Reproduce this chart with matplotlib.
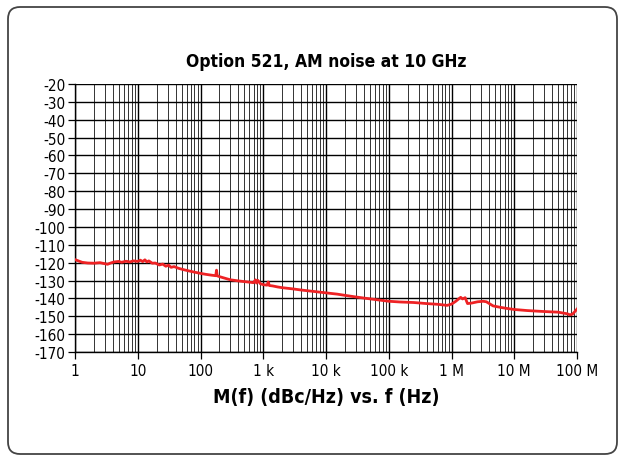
import matplotlib
matplotlib.use("Agg")
import matplotlib.pyplot as plt
from matplotlib.patches import FancyBboxPatch
import numpy as np

plt.rcParams['font.family'] = ['DejaVu Sans']
plt.rcParams['font.stretch'] = 'condensed'

title = "Option 521, AM noise at 10 GHz"
xlabel = "M(f) (dBc/Hz) vs. f (Hz)"

freq_hz = [1, 1.3, 1.6, 2, 2.5, 3, 3.3, 3.7, 4.2, 5, 5.5, 6.5, 7.5, 8.5, 10, 11, 12, 13, 14, 15, 17,
           19, 22, 25, 28, 31, 34, 38, 45, 55, 65, 80, 100, 120, 150, 175, 180, 185, 200,
           250, 300, 400, 500, 600, 700, 750, 780, 820, 900, 1000, 1150, 1200, 1250, 1400,
           1700, 2000, 3000, 4000, 6000, 10000, 15000, 21000, 30000, 40000, 60000, 100000,
           150000, 250000, 400000, 600000, 850000, 1000000, 1150000, 1300000, 1400000,
           1500000, 1650000, 1800000, 2100000, 2600000, 3200000, 3600000, 4600000, 6000000,
           7600000, 10000000, 16000000, 25000000, 37000000, 50000000, 60000000, 70000000,
           77000000, 85000000, 100000000]
noise_dbc = [-118.3, -119.8, -120.2, -120.3, -120.0, -120.6, -120.9, -120.2, -119.6, -119.3, -119.8,
             -119.2, -119.6, -119.0, -119.3, -118.6, -119.4, -118.4, -119.6, -119.0, -120.3,
             -120.2, -121.3, -120.8, -122.0, -121.4, -122.6, -122.2, -123.2, -124.0, -124.6,
             -125.3, -126.0, -126.5, -127.0, -127.3, -124.2, -127.4, -127.8,
             -128.8, -129.6, -130.2, -130.6, -130.9, -131.2, -129.6, -131.4, -129.9, -131.8,
             -132.3, -132.6, -130.8, -132.8, -133.0, -133.6, -134.0, -134.7, -135.3, -136.0,
             -136.9, -137.6, -138.4, -139.2, -139.8, -140.6, -141.6,
             -142.0, -142.3, -142.9, -143.3, -143.9, -143.2, -141.8, -140.3, -139.4,
             -140.3, -139.6, -142.9, -142.6, -141.9, -141.6, -141.9, -144.2, -145.0,
             -145.6, -146.2, -146.8, -147.2, -147.5, -147.7, -148.2, -148.6,
             -149.2, -148.8, -146.0]

x_ticks = [1, 10, 100, 1e3, 1e4, 1e5, 1e6, 1e7, 1e8]
x_tick_labels = ["1", "10", "100", "1 k", "10 k", "100 k", "1 M", "10 M", "100 M"]
y_ticks = list(range(-20, -171, -10))
y_tick_labels = ["%d" % v for v in y_ticks]

W, H = 626, 464
fig = plt.figure(figsize=(W / 100, H / 100), dpi=100)

bg = fig.add_axes([0, 0, 1, 1], zorder=-10)
bg.set_xlim(0, W)
bg.set_ylim(H, 0)
bg.axis("off")
bg.add_patch(FancyBboxPatch((8, 8), 609, 447,
                            boxstyle="round,pad=0,rounding_size=12",
                            facecolor="white", edgecolor="#444444", linewidth=1.3))

ax = fig.add_axes([75 / W, 1 - 353 / H, 502 / W, 268 / H])
ax.set_facecolor("none")
ax.set_xscale("log")
ax.set_xlim(1, 1e8)
ax.set_ylim(-170, -20)

ax.set_xticks(x_ticks)
ax.set_xticklabels(x_tick_labels)
ax.set_xticks([m * 10 ** d for d in range(8) for m in range(2, 10)], minor=True)
ax.set_yticks(y_ticks)
ax.set_yticklabels(y_tick_labels)

ax.grid(True, which="major", axis="both", color="black", linewidth=1.0)
ax.grid(True, which="minor", axis="x", color="#333333", linewidth=0.7)
ax.tick_params(axis="x", which="major", direction="out", length=5, width=0.9,
               labelsize=11, pad=3)
ax.tick_params(axis="x", which="minor", length=0)
ax.tick_params(axis="y", direction="out", length=5, width=0.9, labelsize=11, pad=2)

for s in ["top", "right"]:
    ax.spines[s].set_visible(False)
for s in ["left", "bottom"]:
    ax.spines[s].set_linewidth(1.0)

ax.plot(freq_hz, noise_dbc, color="#ee2224", linewidth=2.0, zorder=3)

fig.text(326 / W, 1 - 62 / H, title, ha="center", va="center",
         fontsize=12.5, fontweight="bold")
fig.text(326 / W, 1 - 397 / H, xlabel, ha="center", va="center",
         fontsize=14, fontweight="bold")

fig.savefig("out.png", dpi=100)
